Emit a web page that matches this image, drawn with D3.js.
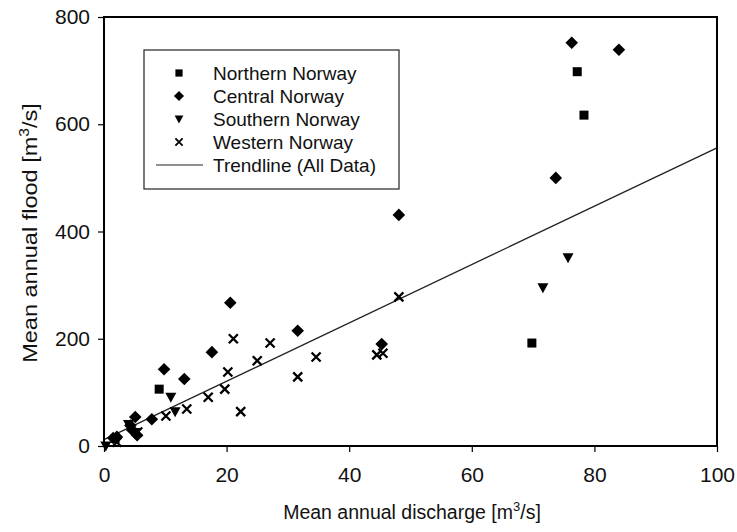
<!DOCTYPE html>
<html><head><meta charset="utf-8">
<script src="https://cdn.jsdelivr.net/npm/d3@7"></script>
<style>body{margin:0;background:#fff}svg{display:block}text{font-family:"Liberation Sans",Arial,sans-serif}</style>
</head><body>
<svg id="c" width="737" height="532"></svg>
<script>
const xTicks = [0,20,40,60,80,100];
const yTicks = [0,200,400,600,800];
const northern = [[77.2,698],[78.3,617],[69.8,192],[9.0,106],[1.8,14]];
const central = [[76.3,752],[84.0,739],[73.7,500],[48.1,431],[20.6,267],[31.6,215],[45.3,190],[17.6,175],[13.1,125],[9.8,143],[7.8,50],[5.1,54],[4.3,38],[5.4,20],[2.1,17],[1.5,15],[4.6,30]];
const southern = [[75.7,351],[71.6,295],[10.9,91],[11.6,64],[0.3,0],[5.2,25],[4.0,40]];
const western = [[48.1,278],[21.1,200],[27.1,192],[25.0,159],[20.2,138],[34.6,166],[44.5,170],[45.5,173],[31.6,129],[19.7,106],[17.0,91],[22.3,64],[13.5,69],[10.1,56],[2.1,7],[5.5,26]];
const trend = {intercept:12, slope:5.44};
const legendLabels = ["Northern Norway","Central Norway","Southern Norway","Western Norway","Trendline (All Data)"];

const svg = d3.select("#c");
const L=104,R=717,T=17,B=446;
const x = d3.scaleLinear().domain([0,100]).range([L,R]);
const y = d3.scaleLinear().domain([0,800]).range([B,T]);

svg.append("line").attr("x1",x(0)).attr("y1",y(trend.intercept)).attr("x2",x(100)).attr("y2",y(trend.intercept+trend.slope*100))
  .attr("stroke","#222").attr("stroke-width",1.3);

function sq(g){g.append("rect").attr("x",-4.5).attr("y",-4.5).attr("width",9).attr("height",9).attr("fill","#000");}
function dm(g){g.append("path").attr("d","M0,-6.3L6.3,0L0,6.3L-6.3,0Z").attr("fill","#000");}
function tri(g){g.append("path").attr("d","M-5.5,-4.5L5.5,-4.5L0,5.5Z").attr("fill","#000");}
function cr(g){g.append("path").attr("d","M-4.5,-4.5L4.5,4.5M-4.5,4.5L4.5,-4.5").attr("stroke","#000").attr("stroke-width",2.3).attr("fill","none");}
function draw(data,fn){
  data.forEach(d=>{const g=svg.append("g").attr("transform",`translate(${x(d[0])},${y(d[1])})`);fn(g);});
}
draw(western,cr);draw(southern,tri);draw(central,dm);draw(northern,sq);

svg.append("rect").attr("x",L).attr("y",T).attr("width",R-L).attr("height",B-T).attr("fill","none").attr("stroke","#000").attr("stroke-width",2);

const xa = svg.append("g").attr("transform",`translate(0,${B})`).call(d3.axisBottom(x).tickValues(xTicks).tickSize(6).tickPadding(15).tickFormat(d3.format("d")));
const ya = svg.append("g").attr("transform",`translate(${L},0)`).call(d3.axisLeft(y).tickValues(yTicks).tickSize(6).tickPadding(8).tickFormat(d3.format("d")));
[xa,ya].forEach(a=>{a.select(".domain").remove();a.selectAll("line").attr("stroke","#000").attr("stroke-width",1.2);a.selectAll("text").attr("font-size",21).attr("fill","#111").attr("font-family","Liberation Sans, Arial, sans-serif");});

const xt = svg.append("text").attr("x",412).attr("y",519).attr("text-anchor","middle").attr("font-size",19.5).attr("fill","#111");
xt.append("tspan").text("Mean annual discharge [m");
xt.append("tspan").attr("font-size",13).attr("dy",-8).text("3");
xt.append("tspan").attr("dy",8).text("/s]");
const yt = svg.append("text").attr("transform","translate(37,233) rotate(-90) scale(1.12,1)").attr("text-anchor","middle").attr("font-size",21).attr("fill","#111");
yt.append("tspan").text("Mean annual flood [m");
yt.append("tspan").attr("font-size",14).attr("dy",-8).text("3");
yt.append("tspan").attr("dy",8).text("/s]");

svg.append("rect").attr("x",144).attr("y",50).attr("width",255).attr("height",139).attr("fill","#fff").attr("stroke","#222").attr("stroke-width",1.2);
const fns=[sq,dm,tri,cr];
const ly=[73,96,119,142,165];
legendLabels.forEach((t,i)=>{
  if(i<4){const g=svg.append("g").attr("transform",`translate(179,${ly[i]}) scale(0.8)`);fns[i](g);}
  else svg.append("line").attr("x1",156).attr("x2",203).attr("y1",ly[i]).attr("y2",ly[i]).attr("stroke","#222").attr("stroke-width",1.2);
  svg.append("text").attr("x",213).attr("y",ly[i]+7).attr("font-size",19).attr("fill","#111").text(t);
});
</script>
</body></html>
